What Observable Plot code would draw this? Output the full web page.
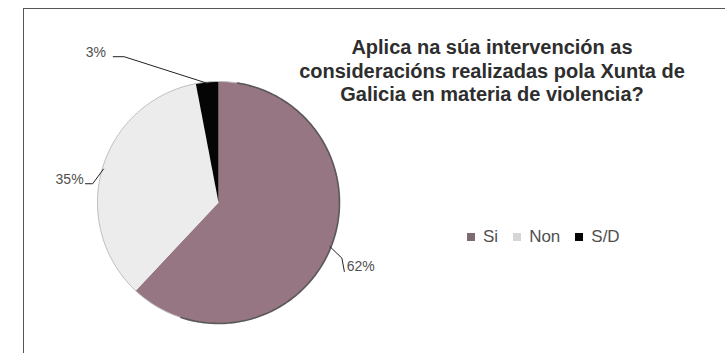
<!DOCTYPE html>
<html>
<head>
<meta charset="utf-8">
<script src="https://cdn.jsdelivr.net/npm/d3@7"></script>
<script src="https://cdn.jsdelivr.net/npm/@observablehq/plot@0.6"></script>
<style>
  html, body { margin: 0; padding: 0; background: #fff; }
  #wrap { position: relative; width: 725px; height: 353px; overflow: hidden; background: #fff; font-family: "Liberation Sans", Arial, sans-serif; }
  #frame { position: absolute; left: 23px; top: 8px; width: 760px; height: 400px; border: 1.5px solid #555; box-sizing: border-box; }
  #chart { position: absolute; left: 0; top: 0; }
  #title { position: absolute; left: 282px; top: 36px; width: 420px; text-align: center; font-weight: bold; font-size: 20px; line-height: 23.5px; color: #2e2e2e; }
  #legend { position: absolute; left: 467px; top: 227px; font-size: 17px; color: #505050; display: flex; align-items: center; white-space: nowrap; }
  #legend .item { display: flex; align-items: center; margin-right: 15px; }
  #legend .sw { width: 8px; height: 8px; margin-right: 8px; }
</style>
</head>
<body>
<div id="wrap">
  <div id="frame"></div>
  <div id="chart"></div>
  <div id="title"></div>
  <div id="legend"></div>
</div>
<script>
// ---- data ----
const categories = ["Si", "Non", "S/D"];
const values = [62, 35, 3];
const labels = ["62%", "35%", "3%"];
const titleLines = [
  "Aplica na súa intervención as",
  "consideracións realizadas pola Xunta de",
  "Galicia en materia de violencia?"
];

// ---- styles ----
const colors = {"Si": "#977683", "Non": "#ececec", "S/D": "#050505"};
const legendColors = {"Si": "#7d6b72", "Non": "#d6d6d6", "S/D": "#050505"};

// ---- layout (pie in unit coordinates) ----
const arcs = d3.pie().sort(null).value(d => d.value)(
  categories.map((c, i) => ({category: c, value: values[i], label: labels[i]}))
);

function arcPoints(a0, a1, r) {
  const pts = [];
  const n = Math.max(2, Math.ceil((a1 - a0) / (Math.PI / 180)));
  for (let k = 0; k <= n; k++) {
    const a = a0 + (a1 - a0) * k / n;
    pts.push({x: r * Math.sin(a), y: r * Math.cos(a)});
  }
  return pts;
}

const slices = arcs.map(a => {
  const pts = [{x: 0, y: 0}, ...arcPoints(a.startAngle, a.endAngle, 1), {x: 0, y: 0}];
  return {category: a.data.category, pts};
});

// leader lines: from slice mid-edge out to the label
const labelLayout = {
  "Si":  {bend: [1.02, -0.46], end: [1.04, -0.57], text: [1.06, -0.53], anchor: "start"},
  "Non": {bend: [-1.04, 0.155], end: [-1.10, 0.155], text: [-1.115, 0.19], anchor: "end"},
  "S/D": {bend: [-0.78, 1.205], end: [-0.87, 1.205], text: [-0.93, 1.24], anchor: "end"}
};
const leaders = [];
const labelRows = [];
arcs.forEach(a => {
  const c = a.data.category;
  const mid = (a.startAngle + a.endAngle) / 2;
  const L = labelLayout[c];
  const start = {x: Math.sin(mid) * 0.99, y: Math.cos(mid) * 0.99};
  leaders.push({c, x: start.x, y: start.y});
  leaders.push({c, x: L.bend[0], y: L.bend[1]});
  leaders.push({c, x: L.end[0], y: L.end[1]});
  labelRows.push({c, label: a.data.label, x: L.text[0], y: L.text[1], anchor: L.anchor});
});

const rimDark = arcPoints(Math.PI * 0.05, Math.PI * 1.1, 1.0);
const rimAll = arcPoints(0, Math.PI * 2, 1.0);

const marks = [];
slices.forEach(s => {
  marks.push(Plot.line(s.pts, {x: "x", y: "y", fill: colors[s.category], stroke: "none", curve: "linear"}));
});
marks.push(Plot.line(rimAll, {x: "x", y: "y", stroke: "#bdbdbd", strokeWidth: 1}));
marks.push(Plot.line(rimDark, {x: "x", y: "y", stroke: "#3a3a3a", strokeWidth: 1.6, strokeOpacity: 0.75}));
marks.push(Plot.line(leaders, {x: "x", y: "y", z: "c", stroke: "#222", strokeWidth: 1}));
["start", "end"].forEach(anc => {
  marks.push(Plot.text(labelRows.filter(d => d.anchor === anc), {
    x: "x", y: "y", text: "label", textAnchor: anc, fontSize: 14, fill: "#505050",
    fontFamily: "Liberation Sans, Arial, sans-serif"
  }));
});

const plot = Plot.plot({
  width: 725,
  height: 353,
  margin: 0,
  x: {domain: [-1, 1], range: [97, 339], axis: null},
  y: {domain: [-1, 1], range: [323, 81], axis: null},
  style: {background: "transparent", overflow: "visible"},
  marks
});
document.getElementById("chart").appendChild(plot);

// title
document.getElementById("title").innerHTML = titleLines.map(t => `<div>${t}</div>`).join("");

// legend
const leg = document.getElementById("legend");
categories.forEach(c => {
  const it = document.createElement("div");
  it.className = "item";
  const sw = document.createElement("span");
  sw.className = "sw";
  sw.style.background = legendColors[c];
  const tx = document.createElement("span");
  tx.textContent = c;
  it.appendChild(sw); it.appendChild(tx);
  leg.appendChild(it);
});
</script>
</body>
</html>
